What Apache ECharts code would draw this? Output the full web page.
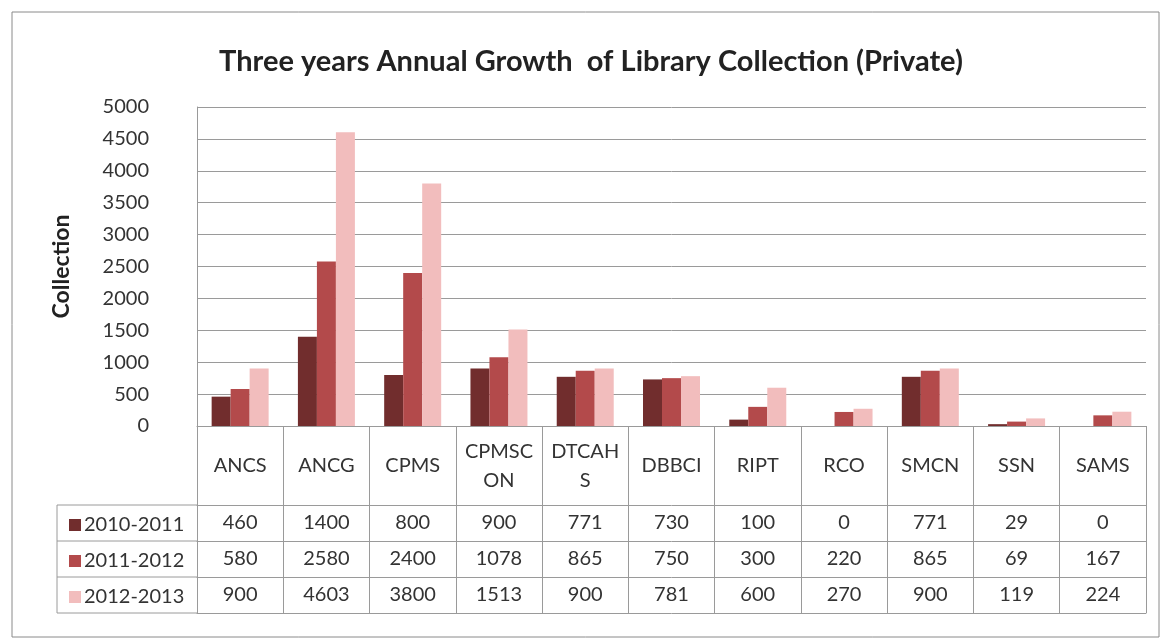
<!DOCTYPE html>
<html>
<head>
<meta charset="utf-8">
<script src="https://cdn.jsdelivr.net/npm/echarts@6/dist/echarts.min.js"></script>
<style>
  html, body { margin: 0; padding: 0; background: #fff; }
  #chart { width: 1161px; height: 642px; }
</style>
</head>
<body>
<div id="chart"></div>
<script>
  // data
  var categories = ['ANCS', 'ANCG', 'CPMS', 'CPMSC\nON', 'DTCAH\nS', 'DBBCI', 'RIPT', 'RCO', 'SMCN', 'SSN', 'SAMS'];
  var seriesNames = ['2010-2011', '2011-2012', '2012-2013'];
  var y2010 = [460, 1400, 800, 900, 771, 730, 100, 0, 771, 29, 0];
  var y2011 = [580, 2580, 2400, 1078, 865, 750, 300, 220, 865, 69, 167];
  var y2012 = [900, 4603, 3800, 1513, 900, 781, 600, 270, 900, 119, 224];
  var colors = ['#712d2d', '#b34a4b', '#f2bdbd'];

  var chart = echarts.init(document.getElementById('chart'));
  var font = 'Lato, "Open Sans", sans-serif';
  var lineCol = '#9a9a9a';

  // one extra category axis per table row, values as labels
  function rowAxis(values, offset) {
    return {
      type: 'category',
      position: 'bottom',
      offset: offset,
      data: values.map(String),
      axisLine: { show: true, lineStyle: { color: lineCol } },
      axisTick: { show: false },
      axisLabel: { interval: 0, margin: 18, verticalAlign: 'middle', fontSize: 20, color: '#333', fontFamily: font },
      splitLine: { show: false }
    };
  }

  var rows = [y2010, y2011, y2012];
  var xAxes = [{
    type: 'category',
    data: categories,
    axisLine: { show: true, lineStyle: { color: lineCol } },
    axisTick: { show: true, length: 187, lineStyle: { color: lineCol } },
    axisLabel: { interval: 0, margin: 40, verticalAlign: 'middle', fontSize: 20, lineHeight: 29, color: '#333', fontFamily: font }
  }];
  rows.forEach(function (r, i) { xAxes.push(rowAxis(r, 79 + i * 36)); });
  xAxes.push({
    type: 'category', position: 'bottom', offset: 187, data: categories,
    axisLine: { show: true, lineStyle: { color: lineCol } },
    axisTick: { show: false }, axisLabel: { show: false }
  });

  var series = rows.map(function (r, i) {
    return {
      name: seriesNames[i],
      type: 'bar',
      xAxisIndex: 0,
      data: r,
      barWidth: 19,
      barGap: '0%',
      itemStyle: { color: colors[i] }
    };
  });

  chart.setOption({
    animation: false,
    title: {
      text: 'Three years Annual Growth  of Library Collection (Private)',
      left: 214,
      top: 42,
      textStyle: { fontSize: 29, fontWeight: 'bold', color: '#222', fontFamily: font }
    },
    legend: {
      orient: 'vertical',
      left: 64,
      top: 502,
      itemGap: 0,
      icon: 'rect',
      itemWidth: 12,
      itemHeight: 12,
      data: seriesNames,
      textStyle: { fontSize: 20, lineHeight: 36, color: '#333', fontFamily: font, padding: [0, 0, 0, -2] }
    },
    grid: { left: 197, right: 15, top: 107, bottom: 216, outerBoundsMode: 'none', containLabel: false },
    xAxis: xAxes,
    yAxis: {
      type: 'value',
      min: 0,
      max: 5000,
      interval: 500,
      name: 'Collection',
      nameLocation: 'middle',
      nameGap: 124,
      nameTextStyle: { fontSize: 23, fontWeight: 'bold', color: '#222', fontFamily: font },
      axisLine: { show: true, lineStyle: { color: lineCol } },
      axisTick: { show: false },
      axisLabel: { margin: 48, fontSize: 20, color: '#333', fontFamily: font, formatter: function (v) { return String(v); } },
      splitLine: { lineStyle: { color: lineCol, width: 1 } }
    },
    graphic: [
      // outer chart border
      { type: 'rect', shape: { x: 12, y: 12, width: 1147, height: 625 }, style: { fill: null, stroke: '#8a8a8a', lineWidth: 1 }, silent: true },
      // legend column of the data table
      { type: 'line', shape: { x1: 57, y1: 505, x2: 197, y2: 505 }, style: { stroke: lineCol } },
      { type: 'line', shape: { x1: 57, y1: 541, x2: 197, y2: 541 }, style: { stroke: lineCol } },
      { type: 'line', shape: { x1: 57, y1: 577, x2: 197, y2: 577 }, style: { stroke: lineCol } },
      { type: 'line', shape: { x1: 57, y1: 613, x2: 197, y2: 613 }, style: { stroke: lineCol } },
      { type: 'line', shape: { x1: 57, y1: 505, x2: 57, y2: 613 }, style: { stroke: lineCol } }
    ],
    series: series
  });
</script>
</body>
</html>
